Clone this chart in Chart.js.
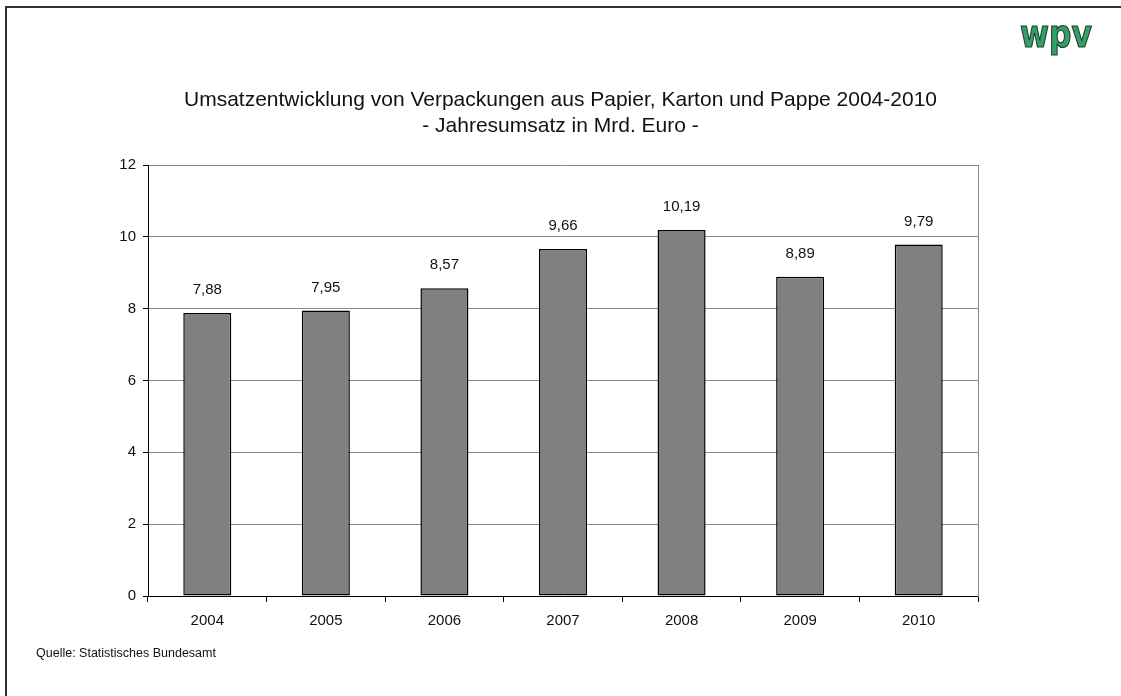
<!DOCTYPE html>
<html>
<head>
<meta charset="utf-8">
<script src="https://cdn.jsdelivr.net/npm/chart.js@4"></script>
<style>
  html, body { margin: 0; padding: 0; background: #fff; }
  #wrap { position: relative; width: 1121px; height: 696px; overflow: hidden; }
  #rahmen { position: absolute; left: 5px; top: 6px; right: -5px; bottom: -5px;
            border-top: 2px solid #333; border-left: 2px solid #333; }
  #logo { position: absolute; left: 1020px; top: 13px; font: bold 37px "DejaVu Sans", sans-serif;
          color: #34a067; -webkit-text-stroke: 1.2px #1d3b2a; transform: scaleX(0.85); transform-origin: left top; }
  #quelle { position: absolute; left: 36px; top: 646px; font: 12.5px "Liberation Sans", Arial, sans-serif; color: #111; }
  canvas { position: absolute; left: 0; top: 0; }
</style>
</head>
<body>
<div id="wrap">
  <canvas id="chartBar" width="1121" height="696"></canvas>
  <div id="rahmen"></div>
  <div id="logo">wpv</div>
  <div id="quelle">Quelle: Statistisches Bundesamt</div>
</div>
<script>
const jahre = ['2004', '2005', '2006', '2007', '2008', '2009', '2010']
const umsatz = [7.88, 7.95, 8.57, 9.66, 10.19, 8.89, 9.79]
const titelZeilen = ['Umsatzentwicklung von Verpackungen aus Papier, Karton und Pappe 2004-2010', '- Jahresumsatz in Mrd. Euro -']

const schrift = '"Liberation Sans", Arial, sans-serif'

// Werte über den Balken (mit Komma)
const wertePlugin = {
    id: 'werte',
    afterDatasetsDraw(chart) {
        const ctx = chart.ctx
        const meta = chart.getDatasetMeta(0)
        ctx.save()
        ctx.font = '15px ' + schrift
        ctx.fillStyle = '#111'
        ctx.textAlign = 'center'
        ctx.textBaseline = 'middle'
        meta.data.forEach(function (bar, i) {
            ctx.fillText(umsatz[i].toFixed(2).replace('.', ','), bar.x, bar.y - 23)
        })
        ctx.restore()
    }
}

const ctx = document.getElementById('chartBar')

var myBarChart = new Chart(ctx, {
    type: 'bar',
    data: {
        labels: jahre,
        datasets: [{
            label: 'Jahresumsatz',
            data: umsatz,
            backgroundColor: '#808080',
            borderColor: '#000',
            borderWidth: 1.5,
            borderSkipped: false,
            barPercentage: 0.405,
            categoryPercentage: 1
        }]
    },
    options: {
        responsive: false,
        animation: false,
        layout: { padding: 0 },
        scales: {
            x: {
                grid: { drawOnChartArea: false, offset: true, color: '#000', tickLength: 6 },
                border: { color: '#000', width: 1 },
                ticks: { color: '#111', font: { size: 15, family: schrift }, padding: 10 },
                afterFit: function (s) { s.height = 100 }
            },
            y: {
                min: 0,
                max: 12,
                ticks: { stepSize: 2, color: '#111', font: { size: 15, family: schrift }, padding: 7 },
                grid: { color: '#888', tickColor: '#000', tickLength: 5 },
                border: { color: '#000', width: 1 },
                afterFit: function (s) { s.width = 148 }
            },
            rechts: {
                position: 'right',
                min: 0,
                max: 12,
                ticks: { display: false },
                grid: { drawOnChartArea: false, drawTicks: false },
                border: { color: '#888', width: 1 },
                afterFit: function (s) { s.width = 143 }
            }
        },
        plugins: {
            legend: { display: false },
            tooltip: { enabled: false },
            title: {
                display: true,
                text: titelZeilen,
                color: '#111',
                font: { size: 21, family: schrift, weight: 'normal', lineHeight: 1.2 },
                padding: { top: 88, bottom: 26.6 }
            }
        }
    },
    plugins: [wertePlugin]
})
</script>
</body>
</html>
